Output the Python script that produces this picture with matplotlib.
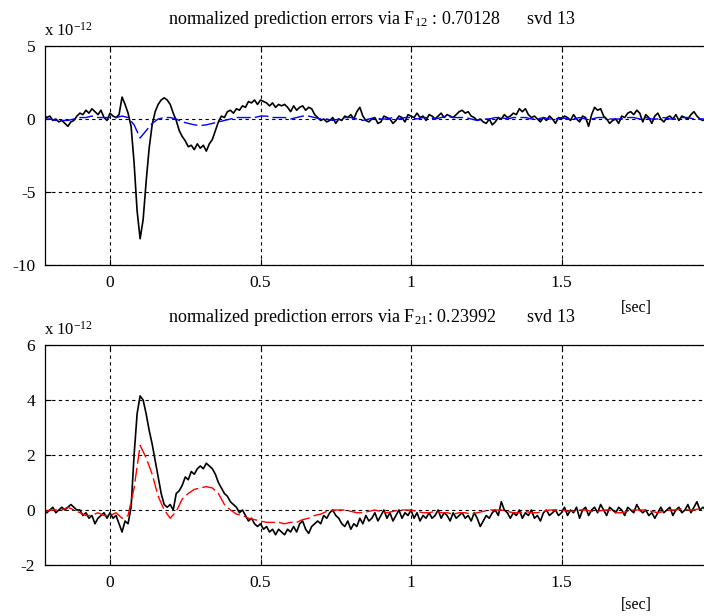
import numpy as np
import matplotlib
matplotlib.use("Agg")
import matplotlib.pyplot as plt

plt.rcParams['font.family'] = ['Liberation Serif', 'DejaVu Serif']
plt.rcParams['mathtext.fontset'] = 'custom'
plt.rcParams['mathtext.rm'] = 'Liberation Serif'
plt.rcParams['mathtext.it'] = 'Liberation Serif'
plt.rcParams['axes.unicode_minus'] = False

# sampling grids [sec]
t_raw = np.round(-0.22 + 0.01 * np.arange(221), 2)
t_fit = np.round(-0.22 + 0.02 * np.arange(111), 2)

# top panel: prediction error via F12 (x 1e-12)
err12_raw = [
    0.3, 0.1, 0.2, -0.1, 0.0, -0.2, -0.1, -0.3, -0.5, -0.2,
    -0.1, 0.2, 0.4, 0.3, 0.6, 0.4, 0.7, 0.5, 0.3, 0.6,
    0.1, -0.1, 0.4, 0.2, 0.1, 0.3, 1.5, 1.0, 0.4, -0.5,
    -3.0, -6.3, -8.2, -6.9, -4.3, -2.0, -0.4, 0.5, 1.0, 1.3,
    1.45, 1.3, 1.0, 0.4, -0.1, -0.8, -1.2, -1.5, -1.9, -1.8,
    -2.1, -1.7, -2.0, -1.8, -2.2, -1.7, -1.4, -0.8, -0.2, 0.2,
    0.1, 0.5, 0.6, 0.4, 0.7, 0.6, 0.9, 0.8, 1.2, 1.1,
    1.3, 1.0, 1.3, 1.2, 1.1, 0.9, 1.1, 0.8, 1.0, 0.9,
    1.0, 0.8, 0.5, 0.9, 0.6, 0.8, 0.9, 0.6, 0.8, 0.7,
    0.3, 0.1, -0.1, 0.0, -0.2, -0.1, 0.1, -0.3, 0.0, -0.1,
    0.2, 0.1, 0.3, 0.0, 0.5, 0.8, 0.2, -0.1, -0.2, 0.0,
    0.1, -0.3, -0.2, 0.2, 0.1, 0.0, -0.3, -0.1, 0.2, 0.1,
    -0.2, 0.3, 0.2, 0.1, 0.4, 0.1, 0.2, -0.1, 0.3, 0.2,
    0.0, 0.2, 0.4, 0.1, 0.3, 0.2, 0.1, 0.3, 0.5, 0.6,
    0.4, 0.5, 0.2, 0.1, -0.1, 0.0, -0.2, -0.3, 0.0, -0.4,
    -0.2, 0.1, 0.0, 0.3, 0.1, 0.2, 0.4, 0.3, 0.7, 0.5,
    0.7, 0.3, 0.1, 0.2, 0.0, -0.2, 0.1, -0.1, 0.2, 0.0,
    -0.3, 0.1, 0.0, 0.2, 0.1, -0.1, 0.3, 0.0, -0.2, 0.2,
    0.1, -0.5, 0.3, 0.8, 0.6, 0.7, 0.2, 0.0, -0.3, -0.1,
    0.0, -0.3, 0.2, 0.1, 0.4, 0.5, 0.3, 0.6, 0.4, -0.2,
    0.3, 0.1, -0.3, 0.2, 0.4, 0.0, -0.2, 0.1, 0.2, 0.0,
    0.3, -0.1, 0.2, 0.1, 0.0, 0.3, 0.5, 0.2, 0.0, -0.1,
    0.1,
]
err12_fit = [
    0.0, 0.0, -0.1, -0.1, -0.1, 0.0, 0.1, 0.1, 0.2, 0.1,
    0.1, 0.1, 0.1, 0.2, 0.1, -0.4, -1.3, -0.8, -0.3, 0.0,
    0.1, 0.1, 0.0, -0.2, -0.3, -0.4, -0.45, -0.4, -0.3, -0.2,
    -0.1, 0.0, 0.1, 0.1, 0.1, 0.1, 0.2, 0.2, 0.1, 0.1,
    0.1, 0.0, 0.1, 0.2, 0.2, 0.1, 0.0, 0.0, -0.1, 0.0,
    0.1, 0.1, 0.0, -0.1, 0.0, 0.1, 0.0, 0.0, 0.1, 0.0,
    0.1, 0.1, 0.0, 0.1, 0.1, 0.0, 0.1, 0.2, 0.1, 0.1,
    0.1, 0.0, -0.1, 0.0, 0.0, 0.1, 0.1, 0.0, 0.1, 0.1,
    0.1, 0.0, 0.0, 0.1, 0.0, 0.0, 0.1, 0.0, 0.0, 0.1,
    0.0, 0.0, 0.1, 0.1, 0.0, 0.0, 0.0, 0.1, 0.1, 0.0,
    0.1, 0.0, 0.0, 0.1, 0.0, 0.0, 0.1, 0.1, 0.0, 0.0,
    0.0,
]

# bottom panel: prediction error via F21 (x 1e-12)
err21_raw = [
    0.0, -0.1, 0.0, 0.1, -0.1, 0.0, 0.1, 0.0, 0.1, 0.2,
    0.1, 0.0, 0.0, -0.2, -0.1, -0.3, -0.2, -0.5, -0.3, -0.2,
    -0.1, -0.3, -0.1, -0.3, -0.2, -0.5, -0.8, -0.4, -0.5, 0.1,
    2.0, 3.5, 4.15, 4.0, 3.5, 2.9, 2.4, 1.8, 1.2, 0.6,
    0.2, 0.1, 0.2, 0.0, 0.6, 0.7, 0.9, 1.2, 1.1, 1.4,
    1.3, 1.5, 1.6, 1.5, 1.7, 1.6, 1.5, 1.3, 1.0, 0.8,
    0.6, 0.5, 0.3, 0.2, 0.1, -0.1, 0.0, -0.2, -0.4, -0.3,
    -0.5, -0.6, -0.5, -0.7, -0.6, -0.8, -0.7, -0.9, -0.7, -0.8,
    -0.9, -0.7, -0.8, -0.6, -0.8, -0.5, -0.4, -0.7, -0.85, -0.6,
    -0.5, -0.4, -0.5, -0.2, -0.3, -0.1, 0.0, -0.2, -0.3, -0.5,
    -0.6, -0.4, -0.7, -0.5, -0.6, -0.3, -0.5, -0.2, -0.4, -0.3,
    -0.1, -0.4, -0.2, 0.0, -0.3, -0.1, -0.4, -0.2, 0.0, -0.3,
    -0.1, -0.2, 0.0, -0.3, -0.1, -0.4, -0.2, -0.3, -0.1, -0.3,
    -0.2, 0.0, -0.3, -0.1, -0.2, -0.4, -0.1, -0.3, -0.2, -0.1,
    -0.3, -0.2, -0.4, -0.1, -0.3, -0.6, -0.4, -0.2, -0.3, -0.1,
    0.0, -0.2, 0.3, 0.0, -0.1, -0.3, -0.1, -0.2, 0.0, -0.3,
    -0.1, -0.2, 0.0, -0.3, -0.2, -0.4, -0.1, 0.0, -0.2, -0.1,
    0.0, -0.2, -0.1, 0.1, -0.2, 0.0, -0.1, 0.1, -0.3, 0.0,
    0.1, -0.2, 0.0, 0.1, -0.1, 0.2, 0.0, -0.2, 0.1, 0.0,
    -0.1, 0.1, 0.0, -0.2, 0.1, 0.0, -0.1, 0.2, 0.0, -0.1,
    0.0, -0.2, -0.1, -0.3, -0.1, 0.1, -0.1, 0.0, 0.1, -0.2,
    0.0, 0.1, -0.1, 0.0, 0.2, -0.1, 0.1, 0.3, 0.0, 0.1,
    0.0,
]
err21_fit = [
    -0.1, 0.0, 0.0, 0.0, 0.1, 0.0, -0.1, -0.2, -0.2, -0.1,
    -0.2, -0.2, -0.1, -0.3, -0.2, 0.8, 2.35, 1.9, 1.3, 0.5,
    0.0, -0.3, -0.05, 0.4, 0.6, 0.75, 0.8, 0.85, 0.8, 0.6,
    0.2, 0.0, -0.15, -0.2, -0.3, -0.35, -0.4, -0.45, -0.45, -0.45,
    -0.5, -0.45, -0.45, -0.35, -0.3, -0.2, -0.15, -0.05, 0.0, 0.0,
    0.0, -0.05, -0.1, -0.1, -0.05, 0.0, -0.05, -0.1, -0.05, 0.0,
    0.0, 0.0, -0.05, -0.1, -0.1, -0.05, -0.1, -0.1, -0.15, -0.1,
    -0.1, -0.15, -0.1, -0.05, 0.0, 0.0, 0.0, -0.05, -0.1, -0.1,
    -0.05, -0.1, -0.1, -0.05, 0.0, 0.0, 0.0, -0.05, -0.05, 0.0,
    0.0, -0.05, -0.05, 0.0, 0.0, -0.1, -0.1, -0.05, 0.0, 0.0,
    0.0, -0.05, -0.1, -0.05, 0.0, 0.0, 0.05, 0.0, 0.0, 0.05,
    0.05,
]

titles = [r"normalized prediction errors via $\mathregular{F_{12}}$ : 0.70128      svd 13",
          r"normalized prediction errors via $\mathregular{F_{21}}$: 0.23992       svd 13"]
ylims = [(-10, 5), (-2, 6)]
yticks = [[-10, -5, 0, 5], [-2, 0, 2, 4, 6]]
xticks = [0, 0.5, 1, 1.5]
xticklabels = ["0", "0.5", "1", "1.5"]

W, H = 704, 616
fig = plt.figure(figsize=(W / 100, H / 100), dpi=100)


def add_ax(l, t, r, b):
    return fig.add_axes([l / W, 1 - b / H, (r - l) / W, (b - t) / H])


ax1 = add_ax(45, 46, 712, 265)
ax2 = add_ax(45, 345, 712, 565)

panels = [(ax1, err12_raw, err12_fit, 'blue'), (ax2, err21_raw, err21_fit, 'red')]
for k, (ax, raw, fit, col) in enumerate(panels):
    ax.plot(t_raw, raw, color='black', lw=1.2)
    ax.plot(t_fit, fit, color=col, lw=1.0, dashes=(10, 3))
    ax.set_xlim(-0.216, 2.0)
    ax.set_ylim(*ylims[k])
    ax.set_xticks(xticks)
    ax.set_xticklabels(xticklabels)
    ax.set_yticks(yticks[k])
    ax.grid(True, color='black', linestyle=(0, (3, 3)), linewidth=0.8)
    ax.tick_params(direction='in', length=4, top=True, right=True,
                   labelsize=12.5, pad=7)
    for s in ax.spines.values():
        s.set_linewidth(0.9)
    ax.text(0.49, 1.1 if k == 0 else 1.105, titles[k], transform=ax.transAxes,
            ha='center', va='baseline', fontsize=13)
    ax.text(-0.002, 1.045, r"x 10$^{\mathregular{-12}}$", transform=ax.transAxes,
            ha='left', va='baseline', fontsize=12)
    ax.set_xlabel("[sec]", fontsize=11.5)
    ax.xaxis.set_label_coords(0.886, -0.16 if k == 0 else -0.145)

fig.savefig("out.png", dpi=100)
